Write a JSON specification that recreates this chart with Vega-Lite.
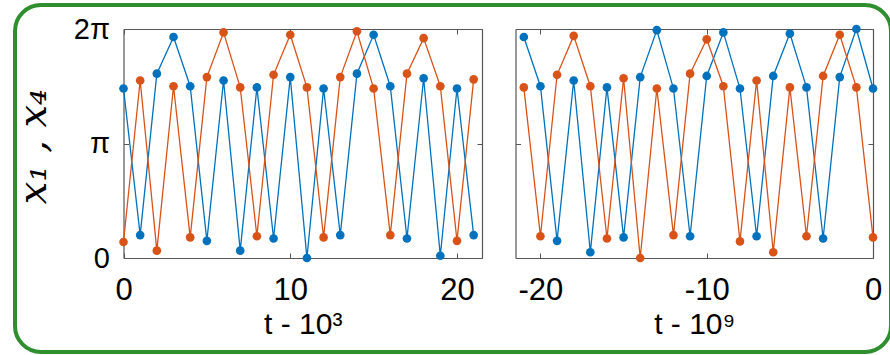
{
  "$schema": "https://vega.github.io/schema/vega-lite/v6.json",
  "width": 876,
  "height": 347,
  "autosize": {"type": "none"},
  "padding": {"left": 15, "top": 5, "right": 0, "bottom": 3},
  "background": "white",
  "config": {
    "view": {"stroke": "#2f8f2f", "strokeWidth": 4, "cornerRadius": 26, "fill": "white"},
    "axis": {
      "grid": false,
      "domainColor": "#555555",
      "tickColor": "#555555",
      "domainWidth": 1.2,
      "tickWidth": 1,
      "labelFont": "Liberation Sans",
      "titleFont": "Liberation Sans",
      "labelColor": "#000000",
      "titleColor": "#000000",
      "titleFontWeight": "normal",
      "labelFlush": false,
      "labelOverlap": false,
      "labelBound": false
    }
  },
  "data": {"values": [
    {"p":"L","s":"x1","t":0,"v":1.48},{"p":"L","s":"x1","t":1,"v":0.20},{"p":"L","s":"x1","t":2,"v":1.61},{"p":"L","s":"x1","t":3,"v":1.93},
    {"p":"L","s":"x1","t":4,"v":1.50},{"p":"L","s":"x1","t":5,"v":0.15},{"p":"L","s":"x1","t":6,"v":1.55},{"p":"L","s":"x1","t":7,"v":0.064},
    {"p":"L","s":"x1","t":8,"v":1.49},{"p":"L","s":"x1","t":9,"v":0.17},{"p":"L","s":"x1","t":10,"v":1.58},{"p":"L","s":"x1","t":11,"v":0.0},
    {"p":"L","s":"x1","t":12,"v":1.48},{"p":"L","s":"x1","t":13,"v":0.20},{"p":"L","s":"x1","t":14,"v":1.61},{"p":"L","s":"x1","t":15,"v":1.95},
    {"p":"L","s":"x1","t":16,"v":1.50},{"p":"L","s":"x1","t":17,"v":0.17},{"p":"L","s":"x1","t":18,"v":1.57},{"p":"L","s":"x1","t":19,"v":0.02},
    {"p":"L","s":"x1","t":20,"v":1.48},{"p":"L","s":"x1","t":21,"v":0.20},
    {"p":"R","s":"x1","t":-21,"v":1.93},{"p":"R","s":"x1","t":-20,"v":1.50},{"p":"R","s":"x1","t":-19,"v":0.15},{"p":"R","s":"x1","t":-18,"v":1.55},
    {"p":"R","s":"x1","t":-17,"v":0.05},{"p":"R","s":"x1","t":-16,"v":1.49},{"p":"R","s":"x1","t":-15,"v":0.18},{"p":"R","s":"x1","t":-14,"v":1.58},
    {"p":"R","s":"x1","t":-13,"v":1.99},{"p":"R","s":"x1","t":-12,"v":1.48},{"p":"R","s":"x1","t":-11,"v":0.19},{"p":"R","s":"x1","t":-10,"v":1.59},
    {"p":"R","s":"x1","t":-9,"v":1.97},{"p":"R","s":"x1","t":-8,"v":1.48},{"p":"R","s":"x1","t":-7,"v":0.19},{"p":"R","s":"x1","t":-6,"v":1.59},
    {"p":"R","s":"x1","t":-5,"v":1.96},{"p":"R","s":"x1","t":-4,"v":1.49},{"p":"R","s":"x1","t":-3,"v":0.17},{"p":"R","s":"x1","t":-2,"v":1.58},
    {"p":"R","s":"x1","t":-1,"v":2.0},{"p":"R","s":"x1","t":0,"v":1.48},
    {"p":"L","s":"x4","t":0,"v":0.14},{"p":"L","s":"x4","t":1,"v":1.55},{"p":"L","s":"x4","t":2,"v":0.064},{"p":"L","s":"x4","t":3,"v":1.50},
    {"p":"L","s":"x4","t":4,"v":0.18},{"p":"L","s":"x4","t":5,"v":1.58},{"p":"L","s":"x4","t":6,"v":1.97},{"p":"L","s":"x4","t":7,"v":1.49},
    {"p":"L","s":"x4","t":8,"v":0.19},{"p":"L","s":"x4","t":9,"v":1.60},{"p":"L","s":"x4","t":10,"v":1.95},{"p":"L","s":"x4","t":11,"v":1.49},
    {"p":"L","s":"x4","t":12,"v":0.18},{"p":"L","s":"x4","t":13,"v":1.58},{"p":"L","s":"x4","t":14,"v":1.98},{"p":"L","s":"x4","t":15,"v":1.48},
    {"p":"L","s":"x4","t":16,"v":0.20},{"p":"L","s":"x4","t":17,"v":1.61},{"p":"L","s":"x4","t":18,"v":1.92},{"p":"L","s":"x4","t":19,"v":1.50},
    {"p":"L","s":"x4","t":20,"v":0.15},{"p":"L","s":"x4","t":21,"v":1.56},
    {"p":"R","s":"x4","t":-21,"v":1.49},{"p":"R","s":"x4","t":-20,"v":0.19},{"p":"R","s":"x4","t":-19,"v":1.60},{"p":"R","s":"x4","t":-18,"v":1.94},
    {"p":"R","s":"x4","t":-17,"v":1.50},{"p":"R","s":"x4","t":-16,"v":0.17},{"p":"R","s":"x4","t":-15,"v":1.57},{"p":"R","s":"x4","t":-14,"v":0.0},
    {"p":"R","s":"x4","t":-13,"v":1.48},{"p":"R","s":"x4","t":-12,"v":0.20},{"p":"R","s":"x4","t":-11,"v":1.61},{"p":"R","s":"x4","t":-10,"v":1.91},
    {"p":"R","s":"x4","t":-9,"v":1.50},{"p":"R","s":"x4","t":-8,"v":0.145},{"p":"R","s":"x4","t":-7,"v":1.55},{"p":"R","s":"x4","t":-6,"v":0.05},
    {"p":"R","s":"x4","t":-5,"v":1.49},{"p":"R","s":"x4","t":-4,"v":0.19},{"p":"R","s":"x4","t":-3,"v":1.59},{"p":"R","s":"x4","t":-2,"v":1.95},
    {"p":"R","s":"x4","t":-1,"v":1.49},{"p":"R","s":"x4","t":0,"v":0.18}
  ]},
  "layer": [
    {
      "transform": [{"filter": "datum.p === 'L'"}],
      "layer": [
        {
          "mark": {"type": "line", "strokeWidth": 1.3},
          "encoding": {
            "x": {"field": "t", "type": "quantitative",
              "scale": {"domain": [0, 21.5], "range": [108.5, 467], "nice": false, "zero": false},
              "axis": {"orient": "bottom", "offset": -94, "values": [0, 10, 20], "tickSize": -5,
                "labelFontSize": 31, "labelPadding": 22, "labelBaseline": "top",
                "title": "t  -  10³", "titleFontSize": 30, "titleBaseline": "alphabetic", "titleY": 75}},
            "y": {"field": "v", "type": "quantitative",
              "scale": {"domain": [0, 2], "range": [253, 24], "nice": false, "zero": false},
              "axis": {"orient": "left", "offset": -108.5, "values": [0, 1, 2], "tickSize": -5,
                "labelExpr": "datum.value == 2 ? '2π' : datum.value == 1 ? 'π' : '0'",
                "labelFontSize": 29, "labelPadding": 19,
                "title": "x₁ , x₄", "titleFont": "DejaVu Serif", "titleFontStyle": "italic", "titleFontSize": 40,
                "titleAngle": -90, "titleAlign": "center", "titleBaseline": "alphabetic", "titleX": -78, "titleY": 141}},
            "color": {"field": "s", "type": "nominal", "scale": {"domain": ["x1", "x4"], "range": ["#0072BD", "#D95319"]}, "legend": null}
          }
        },
        {
          "mark": {"type": "point", "filled": true, "opacity": 1, "size": 75},
          "encoding": {
            "x": {"field": "t", "type": "quantitative",
              "scale": {"domain": [0, 21.5], "range": [108.5, 467], "nice": false, "zero": false},
              "axis": {"orient": "top", "offset": -24, "values": [0, 10, 20], "tickSize": -5, "labels": false, "title": null}},
            "y": {"field": "v", "type": "quantitative",
              "scale": {"domain": [0, 2], "range": [253, 24], "nice": false, "zero": false},
              "axis": {"orient": "right", "offset": -409, "values": [0, 1, 2], "tickSize": -5, "labels": false, "title": null}},
            "color": {"field": "s", "type": "nominal", "legend": null}
          }
        }
      ],
      "resolve": {"axis": {"x": "independent", "y": "independent"}}
    },
    {
      "transform": [{"filter": "datum.p === 'R'"}],
      "layer": [
        {
          "mark": {"type": "line", "strokeWidth": 1.3},
          "encoding": {
            "x": {"field": "t", "type": "quantitative",
              "scale": {"domain": [-21.5, 0], "range": [500.5, 858], "nice": false, "zero": false},
              "axis": {"orient": "bottom", "offset": -94, "values": [-20, -10, 0], "tickSize": -5,
                "labelExpr": "replace(datum.label, '−', '-')",
                "labelFontSize": 31, "labelPadding": 22, "labelBaseline": "top",
                "title": "t  -  10⁹", "titleFontSize": 30, "titleBaseline": "alphabetic", "titleY": 75}},
            "y": {"field": "v", "type": "quantitative",
              "scale": {"domain": [0, 2], "range": [253, 24], "nice": false, "zero": false},
              "axis": {"orient": "left", "offset": -500.5, "values": [0, 1, 2], "tickSize": -5, "labels": false, "title": null}},
            "color": {"field": "s", "type": "nominal", "scale": {"domain": ["x1", "x4"], "range": ["#0072BD", "#D95319"]}, "legend": null}
          }
        },
        {
          "mark": {"type": "point", "filled": true, "opacity": 1, "size": 75},
          "encoding": {
            "x": {"field": "t", "type": "quantitative",
              "scale": {"domain": [-21.5, 0], "range": [500.5, 858], "nice": false, "zero": false},
              "axis": {"orient": "top", "offset": -24, "values": [-20, -10, 0], "tickSize": -5, "labels": false, "title": null}},
            "y": {"field": "v", "type": "quantitative",
              "scale": {"domain": [0, 2], "range": [253, 24], "nice": false, "zero": false},
              "axis": {"orient": "right", "offset": -18, "values": [0, 1, 2], "tickSize": -5, "labels": false, "title": null}},
            "color": {"field": "s", "type": "nominal", "legend": null}
          }
        }
      ],
      "resolve": {"axis": {"x": "independent", "y": "independent"}}
    }
  ],
  "resolve": {"scale": {"x": "independent", "y": "independent"}, "axis": {"x": "independent", "y": "independent"}}
}
